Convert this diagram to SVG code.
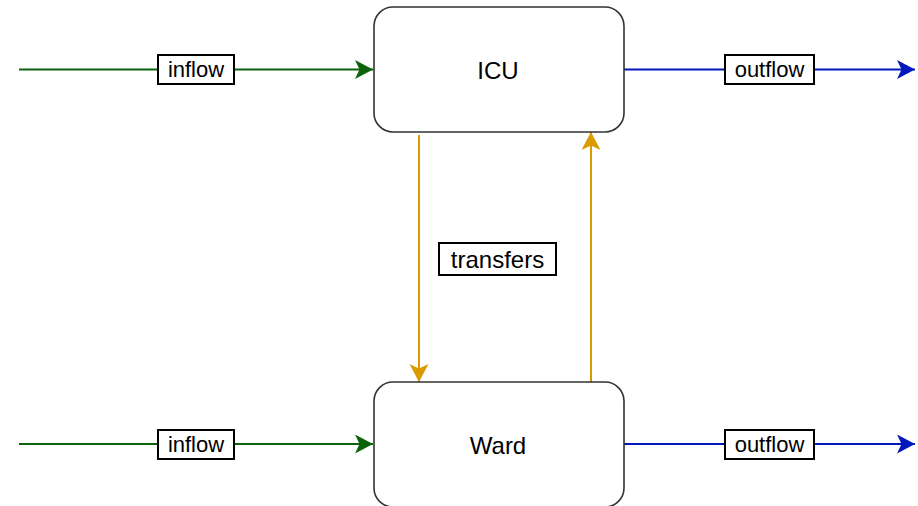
<svg xmlns="http://www.w3.org/2000/svg" width="918" height="506" viewBox="0 0 918 506">
<style>
.node{fill:#fff;stroke:#333;stroke-width:1.6}
.nt{font-family:"Liberation Sans",Arial,sans-serif;font-size:24px;fill:#000;text-anchor:middle;dominant-baseline:central}
.lb{fill:#fff;stroke:#000;stroke-width:2}
.lt{font-family:"Liberation Sans",Arial,sans-serif;font-size:22px;fill:#000;text-anchor:middle;dominant-baseline:central}
.g{stroke:#0B640B;stroke-width:2;fill:none}
.b{stroke:#0018BE;stroke-width:2;fill:none}
.o{stroke:#D99B00;stroke-width:2;fill:none}
</style>
<defs>
<marker id="ag" markerUnits="userSpaceOnUse" markerWidth="20" markerHeight="20" refX="18" refY="9.5" orient="auto" viewBox="0 0 20 20"><path d="M0,0 L18,9.5 L0,19 L4.5,9.5 Z" fill="#0B640B"/></marker>
<marker id="ab" markerUnits="userSpaceOnUse" markerWidth="20" markerHeight="20" refX="18" refY="9.5" orient="auto" viewBox="0 0 20 20"><path d="M0,0 L18,9.5 L0,19 L4.5,9.5 Z" fill="#0018BE"/></marker>
<marker id="ao" markerUnits="userSpaceOnUse" markerWidth="20" markerHeight="20" refX="18" refY="9.5" orient="auto" viewBox="0 0 20 20"><path d="M0,0 L18,9.5 L0,19 L4.5,9.5 Z" fill="#D99B00"/></marker>
</defs>
<g id="connectors">
<line class="g" x1="19" y1="69.5" x2="373" y2="69.5" marker-end="url(#ag)"/>
<line class="b" x1="624" y1="69.5" x2="915" y2="69.5" marker-end="url(#ab)"/>
<line class="g" x1="19" y1="444" x2="373" y2="444" marker-end="url(#ag)"/>
<line class="b" x1="624" y1="444" x2="915" y2="444" marker-end="url(#ab)"/>
<line class="o" x1="419" y1="135" x2="419" y2="382" marker-end="url(#ao)"/>
<line class="o" x1="591" y1="382" x2="591" y2="132" marker-end="url(#ao)"/>
<g id="lbl-inflow1"><rect class="lb" x="158" y="55" width="76" height="29"/><text class="lt" x="196" y="69.5">inflow</text></g>
<g id="lbl-outflow1"><rect class="lb" x="725" y="55" width="89" height="29"/><text class="lt" x="769.5" y="69.5">outflow</text></g>
<g id="lbl-inflow2"><rect class="lb" x="158" y="430" width="76" height="29"/><text class="lt" x="196" y="444">inflow</text></g>
<g id="lbl-outflow2"><rect class="lb" x="725" y="430" width="89" height="29"/><text class="lt" x="769.5" y="444">outflow</text></g>
<g id="lbl-transfers"><rect class="lb" x="439" y="243" width="117" height="32"/><text class="lt" x="497.5" y="259" style="font-size:24px">transfers</text></g>
</g>
<g id="ICU"><rect class="node" x="374" y="7" width="250" height="125" rx="19"/><text class="nt" x="498" y="70">ICU</text></g>
<g id="Ward"><rect class="node" x="374" y="382" width="250" height="125" rx="19"/><text class="nt" x="498" y="445">Ward</text></g>
</svg>
